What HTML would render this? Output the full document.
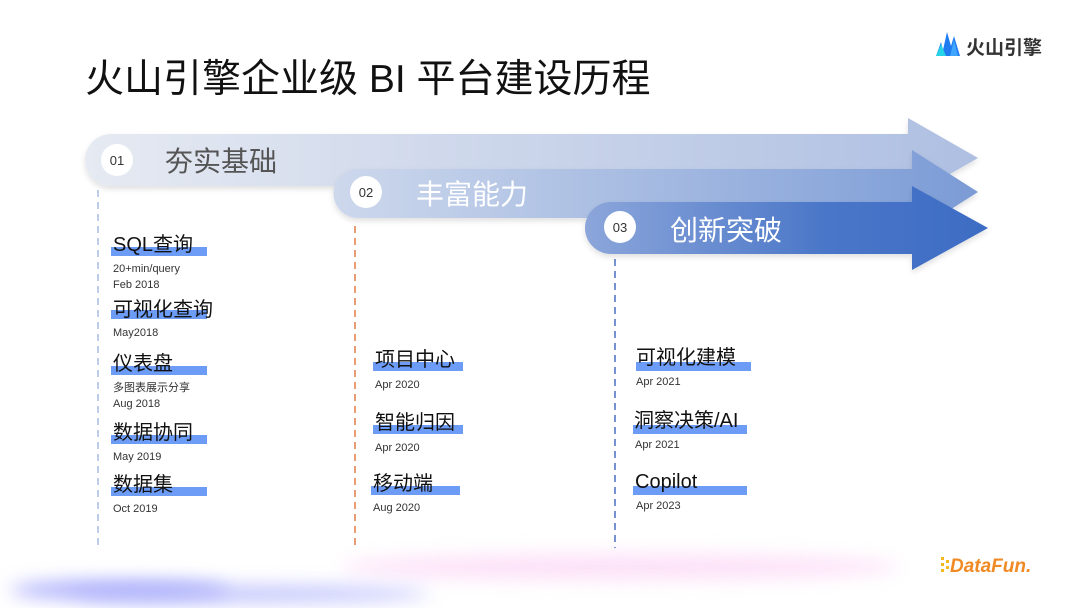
<!DOCTYPE html>
<html><head><meta charset="utf-8"><style>
html,body{margin:0;padding:0;background:#fff;}
body{width:1080px;height:608px;overflow:hidden;}
text{font-family:"Liberation Sans","Noto Sans CJK SC",sans-serif;}
</style></head><body>
<svg width="1080" height="608" viewBox="0 0 1080 608" xmlns="http://www.w3.org/2000/svg">
<defs>
<linearGradient id="g1" x1="0" x2="1" y1="0" y2="0"><stop offset="0" stop-color="#e6eaf2"/><stop offset="1" stop-color="#aebfe2"/></linearGradient>
<linearGradient id="g2" x1="0" x2="1" y1="0" y2="0"><stop offset="0" stop-color="#cdd8ec"/><stop offset="1" stop-color="#7b9bd6"/></linearGradient>
<linearGradient id="g3" x1="0" x2="1" y1="0" y2="0"><stop offset="0" stop-color="#8ca6da"/><stop offset="0.6" stop-color="#4a76c8"/><stop offset="1" stop-color="#3d6cc4"/></linearGradient>
<filter id="bl" x="-20%" y="-200%" width="140%" height="500%"><feGaussianBlur stdDeviation="9"/></filter>
<filter id="sh" x="-5%" y="-30%" width="110%" height="160%"><feDropShadow dx="0" dy="3" stdDeviation="3" flood-color="#000" flood-opacity="0.12"/></filter>
</defs>
<ellipse cx="620" cy="567" rx="280" ry="13" fill="#fcd9f6" filter="url(#bl)" opacity="0.8"/>
<ellipse cx="120" cy="590" rx="110" ry="9" fill="#a6a8fb" filter="url(#bl)"/>
<ellipse cx="250" cy="594" rx="180" ry="8" fill="#b0b4fb" filter="url(#bl)" opacity="0.8"/>

<text x="85" y="92" font-size="39" fill="#111">火山引擎企业级 BI 平台建设历程</text>

<polygon points="936,56 941,42 943,50 947,32 951,46 954,36 960,56" fill="#1f7cf0"/>
<polygon points="936,56 941,44 946,56" fill="#27d3e6"/>
<polygon points="950,56 954,40 958,56" fill="#3fa5ff"/>
<text x="966" y="54" font-size="19" font-weight="bold" fill="#333">火山引擎</text>

<path d="M111,134 H908 V118 L978,158 L908,198 V186 H111 A26,26 0 0 1 111,134 Z" fill="url(#g1)" filter="url(#sh)"/>
<path d="M358,169 H912 V150 L978,192 L912,234 V218 H358 A24.5,24.5 0 0 1 358,169 Z" fill="url(#g2)" filter="url(#sh)"/>
<path d="M611,202 H912 V186 L988,228 L912,270 V254 H611 A26,26 0 0 1 611,202 Z" fill="url(#g3)" filter="url(#sh)"/>
<circle cx="117" cy="160" r="16" fill="#fff"/><text x="117" y="165" font-size="13" fill="#333" text-anchor="middle">01</text>
<circle cx="366" cy="192" r="16" fill="#fff"/><text x="366" y="197" font-size="13" fill="#333" text-anchor="middle">02</text>
<circle cx="620" cy="227" r="16" fill="#fff"/><text x="620" y="232" font-size="13" fill="#333" text-anchor="middle">03</text>
<text x="165" y="171" font-size="28" fill="#555">夯实基础</text>
<text x="416" y="204" font-size="28" fill="#fff">丰富能力</text>
<text x="670" y="240" font-size="28" fill="#fff">创新突破</text>

<line x1="98" y1="190" x2="98" y2="545" stroke="#a9bde0" stroke-width="1.5" stroke-dasharray="7,5"/>
<line x1="355" y1="226" x2="355" y2="548" stroke="#e07b45" stroke-width="1.5" stroke-dasharray="7,5"/>
<line x1="615" y1="259" x2="615" y2="548" stroke="#4a6fc0" stroke-width="1.5" stroke-dasharray="7,5"/>

<g fill="#6d9cf6">
<rect x="111" y="247" width="96" height="9"/>
<rect x="111" y="310" width="96" height="9"/>
<rect x="111" y="366" width="96" height="9"/>
<rect x="111" y="435" width="96" height="9"/>
<rect x="111" y="487" width="96" height="9"/>
<rect x="373" y="362" width="90" height="9"/>
<rect x="373" y="425" width="90" height="9"/>
<rect x="371" y="486" width="89" height="9"/>
<rect x="636" y="362" width="115" height="9"/>
<rect x="633" y="425" width="114" height="9"/>
<rect x="633" y="486" width="114" height="9"/>
</g>
<g font-size="20" fill="#111">
<text x="113" y="251">SQL查询</text>
<text x="113" y="316">可视化查询</text>
<text x="113" y="370">仪表盘</text>
<text x="113" y="439">数据协同</text>
<text x="113" y="491">数据集</text>
<text x="375" y="366">项目中心</text>
<text x="375" y="429">智能归因</text>
<text x="373" y="490">移动端</text>
<text x="636" y="364">可视化建模</text>
<text x="634" y="427">洞察决策/AI</text>
<text x="635" y="488">Copilot</text>
</g>
<g font-size="11" fill="#333">
<text x="113" y="272">20+min/query</text>
<text x="113" y="288">Feb 2018</text>
<text x="113" y="336">May2018</text>
<text x="113" y="391">多图表展示分享</text>
<text x="113" y="407">Aug 2018</text>
<text x="113" y="460">May 2019</text>
<text x="113" y="512">Oct 2019</text>
<text x="375" y="388">Apr 2020</text>
<text x="375" y="451">Apr 2020</text>
<text x="373" y="511">Aug 2020</text>
<text x="636" y="385">Apr 2021</text>
<text x="635" y="448">Apr 2021</text>
<text x="636" y="509">Apr 2023</text>
</g>
<g fill="#f5b91e"><rect x="941" y="557" width="3" height="3"/><rect x="941" y="563" width="3" height="3"/><rect x="941" y="569" width="3" height="3"/><rect x="946" y="560" width="3" height="3"/><rect x="946" y="566" width="3" height="3"/></g>
<text x="950" y="572" font-size="19" font-style="italic" font-weight="bold" fill="#f08a24">DataFun.</text>
</svg>
</body></html>
